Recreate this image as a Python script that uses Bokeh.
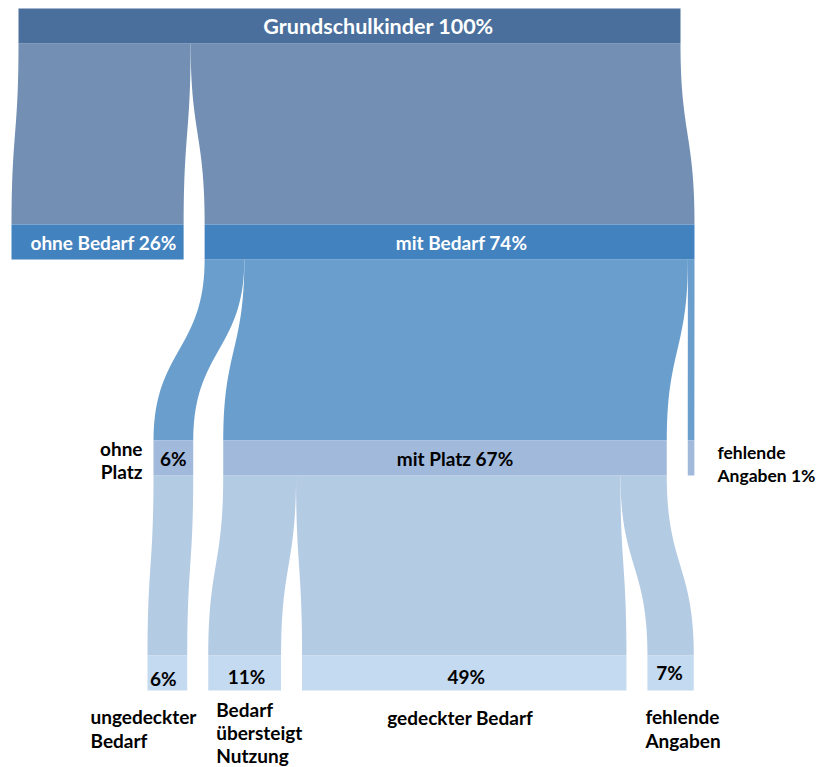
import numpy as np
from bokeh.plotting import figure
from bokeh.models import ColumnDataSource, Range1d
from bokeh.core.properties import value
from bokeh.embed import file_html
from bokeh.resources import INLINE

# ---------------- data ----------------
node_names = ["Grundschulkinder", "ohne Bedarf", "mit Bedarf", "ohne Platz", "mit Platz",
              "fehlende Angaben", "ungedeckter Bedarf", "Bedarf übersteigt Nutzung",
              "gedeckter Bedarf", "fehlende Angaben (Nutzung)"]
node_values = [100, 26, 74, 6, 67, 1, 6, 11, 49, 7]
node_levels = [0, 1, 1, 2, 2, 2, 3, 3, 3, 3]
link_source = [0, 0, 2, 2, 2, 3, 4, 4, 4]
link_target = [1, 2, 3, 4, 5, 6, 7, 8, 9]
link_values = [26, 74, 6, 67, 1, 6, 11, 49, 7]
inner_labels = ["Grundschulkinder 100%", "ohne Bedarf 26%", "mit Bedarf 74%", "6%",
                "mit Platz 67%", "", "6%", "11%", "49%", "7%"]
outer_labels = ["", "", "", "ohne\nPlatz", "", "fehlende\nAngaben 1%", "ungedeckter\nBedarf",
                "Bedarf\nübersteigt\nNutzung", "gedeckter Bedarf", "fehlende\nAngaben"]

# ---------------- layout / style ----------------
PX_PER_PCT = 6.62
level_top = [8, 224, 440, 655]
node_h = 35
level_start = [18, 11, 153, 147]
level_gaps = {0: [], 1: [21], 2: [30, 21], 3: [21, 21, 21]}
node_colors = ["#4A6F9C", "#4282BF", "#A1BADC", "#C4DAF0"]
flow_colors = ["#7390B4", "#6A9ECD", "#B4CBE4"]
inner_text_colors = ["white", "white", "black", "black"]
inner_offsets = [(29, 0), (6, 0), (12, 0), (0, 0), (10, 0), (0, 0), (-4, 5), (2, 3), (2, 3), (-1, -1)]
inner_sizes = ["21.5px", "19px", "19px", "19px", "19px", "19px", "19px", "19px", "19px", "19px"]
# outer label: (reference edge, dx, dy from node centre / bottom, align, line spacing, font size)
outer_pos = {
    3: ("x0", -11, -10, "right", "mid", 23, "19px"),
    5: ("x1", 23, -6, "left", "mid", 23, "17.5px"),
    6: ("x0", -57, 26, "left", "bottom", 24, "19px"),
    7: ("x0", 8, 19, "left", "bottom", 23, "19px"),
    8: ("xc", -4, 27, "center", "bottom", 24, "19px"),
    9: ("x0", -2, 26, "left", "bottom", 24, "19px"),
}
FONT = "Lato"

# ---------------- geometry ----------------
x0s, x1s = [0.0] * len(node_values), [0.0] * len(node_values)
for lv in range(4):
    idx = [i for i, l in enumerate(node_levels) if l == lv]
    x = level_start[lv]
    for k, i in enumerate(idx):
        if k > 0:
            x += level_gaps[lv][k - 1]
        x0s[i] = x
        x1s[i] = x + node_values[i] * PX_PER_PCT
        x = x1s[i]
tops = [level_top[node_levels[i]] for i in range(len(node_values))]
bots = [t + node_h for t in tops]


def bez(xa, ya, xb, yb, n=40):
    t = np.linspace(0, 1, n)
    ym = (ya + yb) / 2
    x = (1 - t) ** 3 * xa + 3 * (1 - t) ** 2 * t * xa + 3 * (1 - t) * t ** 2 * xb + t ** 3 * xb
    y = (1 - t) ** 3 * ya + 3 * (1 - t) ** 2 * t * ym + 3 * (1 - t) * t ** 2 * ym + t ** 3 * yb
    return x, y


src_off = {i: 0.0 for i in range(len(node_values))}
tgt_off = {i: 0.0 for i in range(len(node_values))}
fxs, fys, fcol = [], [], []
for s, t, v in zip(link_source, link_target, link_values):
    w = v * PX_PER_PCT
    sx0 = x0s[s] + src_off[s]
    tx0 = x0s[t] + tgt_off[t]
    src_off[s] += w
    tgt_off[t] += w
    ya, yb = bots[s], tops[t]
    lx, ly = bez(sx0, ya, tx0, yb)
    rx, ry = bez(sx0 + w, ya, tx0 + w, yb)
    fxs.append(list(lx) + list(rx[::-1]))
    fys.append(list(ly) + list(ry[::-1]))
    fcol.append(flow_colors[node_levels[s]])

W, H = 823, 767
p = figure(width=W, height=H, output_backend="svg", toolbar_location=None,
           x_range=Range1d(0, W), y_range=Range1d(H, 0), min_border=0)
p.axis.visible = False
p.grid.visible = False
p.outline_line_color = None
p.background_fill_color = "white"

p.patches(fxs, fys, fill_color=fcol, line_color=None)

nsrc = ColumnDataSource(dict(left=x0s, right=x1s, top=tops, bottom=bots,
                             color=[node_colors[l] for l in node_levels]))
p.quad(left="left", right="right", top="top", bottom="bottom", fill_color="color",
       line_color=None, source=nsrc)

# inner labels
ix, iy, it, ic, isz = [], [], [], [], []
for i, lab in enumerate(inner_labels):
    if not lab:
        continue
    dx, dy = inner_offsets[i]
    ix.append((x0s[i] + x1s[i]) / 2 + dx)
    iy.append((tops[i] + bots[i]) / 2 + dy)
    it.append(lab)
    ic.append(inner_text_colors[node_levels[i]])
    isz.append(inner_sizes[i])
p.text(x="x", y="y", text="text", text_color="color", text_font_size="size",
       source=ColumnDataSource(dict(x=ix, y=iy, text=it, color=ic, size=isz)),
       text_font=value(FONT), text_font_style="bold",
       text_align="center", text_baseline="middle")

# outer labels
groups = {}
for i, lab in enumerate(outer_labels):
    if not lab:
        continue
    ref, dx, dy, align, vref, sp, fs = outer_pos[i]
    xr = {"x0": x0s[i], "x1": x1s[i], "xc": (x0s[i] + x1s[i]) / 2}[ref]
    yb = (tops[i] + bots[i]) / 2 if vref == "mid" else bots[i]
    for k, line in enumerate(lab.split("\n")):
        g = groups.setdefault(align, dict(x=[], y=[], text=[], size=[]))
        g["x"].append(xr + dx)
        g["y"].append(yb + dy + k * sp)
        g["text"].append(line)
        g["size"].append(fs)
for align, g in groups.items():
    p.text(x="x", y="y", text="text", source=ColumnDataSource(g), text_color="black",
           text_font=value(FONT), text_font_style="bold", text_font_size="size",
           text_align=align, text_baseline="middle")

open("out.html", "w").write(file_html(p, INLINE))
